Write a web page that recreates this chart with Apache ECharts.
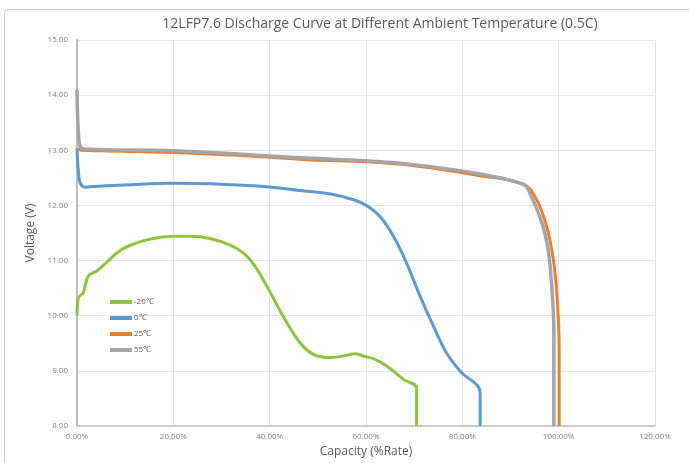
<!DOCTYPE html>
<html>
<head>
<meta charset="utf-8">
<script src="https://cdn.jsdelivr.net/npm/echarts@6/dist/echarts.min.js"></script>
<style>
  html, body { margin: 0; padding: 0; background: #fff; }
  #chart { width: 689px; height: 463px; }
</style>
</head>
<body>
<div id="chart"></div>
<script>
// Discharge curves: [capacity %, voltage V]
var seriesNames = ['-20\u2103', '0\u2103', '25\u2103', '55\u2103'];
var seriesColors = ['#8cc63f', '#5b9bd5', '#ed7d31', '#a5a5a5'];

var minus20 = [
  [0, 10.0], [0.27, 10.32], [1.3, 10.42], [2.35, 10.72], [4.1, 10.81], [6.2, 10.97],
  [8.9, 11.18], [12.4, 11.32], [15.8, 11.4], [20, 11.44], [23.5, 11.44], [27.6, 11.4],
  [31.8, 11.28], [34.5, 11.14], [36.6, 10.94], [39.4, 10.54], [42.8, 9.99], [46.3, 9.51],
  [49.1, 9.3], [52.5, 9.24], [55.3, 9.27], [57.7, 9.31], [59.4, 9.27], [61.5, 9.22],
  [64.3, 9.09], [67.7, 8.85], [70.5, 8.68], [70.5, 8.0]
];
var zero = [
  [0, 13.04], [0.3, 12.6], [0.7, 12.4], [1.7, 12.33], [2.7, 12.34], [10, 12.37],
  [20, 12.4], [31, 12.38], [39.4, 12.34], [46.3, 12.27], [53.2, 12.2], [57.5, 12.1],
  [60.1, 12.0], [62.9, 11.8], [65.7, 11.44], [68.4, 10.96], [71.2, 10.36], [74.0, 9.81],
  [76.7, 9.33], [79.5, 9.0], [83.7, 8.6], [83.7, 8.0]
];
var t25 = [
  [0, 13.03], [1, 13.0], [5, 12.99], [20, 12.96], [39.4, 12.88], [47.7, 12.83],
  [60, 12.79], [70, 12.72], [83.7, 12.54], [92.7, 12.38], [95.4, 12.11], [97.5, 11.62],
  [98.9, 11.02], [99.7, 10.3], [100.1, 9.39], [100.1, 8.0]
];
var t55 = [
  [0, 14.1], [0.3, 13.3], [0.8, 13.05], [2, 13.02], [20, 12.99], [47.7, 12.86],
  [60, 12.81], [70, 12.74], [83.7, 12.57], [92.7, 12.38], [94.0, 12.23], [96.5, 11.69],
  [97.8, 11.2], [98.5, 10.6], [99.0, 9.7], [99.0, 8.0]
];
var seriesData = [minus20, zero, t25, t55];

var chart = echarts.init(document.getElementById('chart'), null, { renderer: 'canvas' });

var font = '"Open Sans", sans-serif';
var series = seriesData.map(function (d, i) {
  return {
    name: seriesNames[i],
    type: 'line',
    data: d,
    smooth: 0.4,
    showSymbol: false,
    lineStyle: { width: i === 3 ? 3.5 : 3, color: seriesColors[i] },
    itemStyle: { color: seriesColors[i] }
  };
});

chart.setOption({
  animation: false,
  title: {
    text: '12LFP7.6 Discharge Curve at Different Ambient Temperature (0.5C)',
    left: 375,
    textAlign: 'center',
    top: 12,
    textStyle: { fontFamily: font, fontSize: 14, fontWeight: 'normal', color: '#595959' }
  },
  graphic: [{
    type: 'rect',
    shape: { x: 4.5, y: 9.5, width: 720, height: 500, r: 4 },
    style: { fill: 'none', stroke: '#c8c8c8', lineWidth: 1 },
    silent: true
  }],
  legend: {
    orient: 'vertical',
    left: 105,
    top: 293,
    itemWidth: 22,
    itemHeight: 4,
    itemGap: 8,
    icon: 'rect',
    textStyle: { fontFamily: font, fontSize: 8, color: '#595959', padding: [4, 0, 0, -3] },
    data: seriesNames
  },
  grid: { left: 77, right: 34, top: 40, bottom: 36 },
  xAxis: {
    type: 'value',
    min: 0, max: 120, interval: 20,
    name: 'Capacity (%Rate)',
    nameLocation: 'middle',
    nameGap: 20,
    nameTextStyle: { fontFamily: font, fontSize: 12, color: '#595959' },
    axisLine: { lineStyle: { color: '#bfbfbf', width: 1.5 } },
    axisTick: { show: false },
    axisLabel: {
      fontFamily: font, fontSize: 8, color: '#7f7f7f', margin: 7,
      formatter: function (v) { return v.toFixed(2) + '%'; }
    },
    splitLine: { lineStyle: { color: '#e4e4e4', width: 1 } }
  },
  yAxis: {
    type: 'value',
    min: 8, max: 15, interval: 1,
    name: 'Voltage (V)',
    nameLocation: 'middle',
    nameGap: 40,
    nameTextStyle: { fontFamily: font, fontSize: 12, color: '#595959' },
    axisLine: { show: true, lineStyle: { color: '#bfbfbf', width: 2 } },
    axisTick: { show: false },
    axisLabel: {
      fontFamily: font, fontSize: 8, color: '#7f7f7f', margin: 9,
      formatter: function (v) { return v.toFixed(2); }
    },
    splitLine: { lineStyle: { color: '#e4e4e4', width: 1 } }
  },
  series: series
});
</script>
</body>
</html>
